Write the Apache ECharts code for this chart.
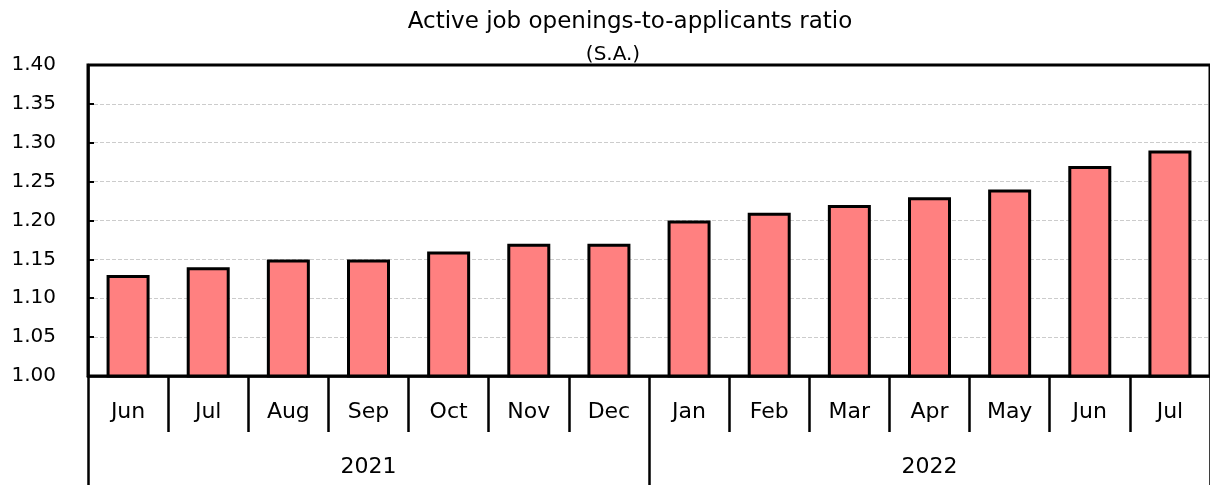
<!DOCTYPE html>
<html>
<head>
<meta charset="utf-8">
<script src="https://cdn.jsdelivr.net/npm/echarts@6/dist/echarts.min.js"></script>
<style>
  html, body { margin: 0; padding: 0; background: #fff; }
  #chart { width: 1210px; height: 485px; }
</style>
</head>
<body>
<div id="chart"></div>
<script>
// data
const months = ['Jun', 'Jul', 'Aug', 'Sep', 'Oct', 'Nov', 'Dec', 'Jan', 'Feb', 'Mar', 'Apr', 'May', 'Jun', 'Jul']
const years = ['2021', '2022']
const ratio = [1.13, 1.14, 1.15, 1.15, 1.16, 1.17, 1.17, 1.20, 1.21, 1.22, 1.23, 1.24, 1.27, 1.29]

const font = 'DejaVu Sans'
const myChart = echarts.init(document.getElementById('chart'))

let option = {
  animation: false,
  title: [
    {
      text: 'Active job openings-to-applicants ratio',
      left: 625, top: 6, textAlign: 'center',
      textStyle: { fontFamily: font, fontSize: 23, fontWeight: 'normal', color: '#000' }
    },
    {
      text: '(S.A.)',
      left: 608, top: 40, textAlign: 'center',
      textStyle: { fontFamily: font, fontSize: 20, fontWeight: 'normal', color: '#000' }
    }
  ],
  grid: {
    left: 88, right: 0, top: 65, bottom: 109,
    show: true, borderColor: '#000', borderWidth: 3
  },
  xAxis: [
    {
      type: 'category',
      data: months,
      position: 'bottom',
      axisLine: { lineStyle: { color: '#000', width: 2.5 } },
      axisTick: { show: true, interval: 0, length: 56, lineStyle: { color: '#000', width: 2.5 } },
      axisLabel: { interval: 0, margin: 25, fontFamily: font, fontSize: 22, color: '#000' }
    },
    {
      type: 'category',
      data: years,
      position: 'bottom',
      offset: 56,
      axisLine: { show: false },
      axisTick: { show: true, interval: 0, length: 54, lineStyle: { color: '#000', width: 2.5 } },
      axisLabel: { interval: 0, margin: 24, fontFamily: font, fontSize: 22, color: '#000' }
    }
  ],
  yAxis: {
    type: 'value',
    min: 1.0, max: 1.4, interval: 0.05,
    axisLine: { show: true, lineStyle: { color: '#000', width: 2.5 } },
    axisTick: { show: true, inside: true, length: 6, lineStyle: { color: '#000', width: 2 } },
    axisLabel: {
      margin: 32, fontFamily: font, fontSize: 20, color: '#000',
      formatter: (v) => v.toFixed(2)
    },
    splitLine: {
      show: true, showMinLine: false, showMaxLine: false,
      lineStyle: { color: '#ccc', type: 'dashed', width: 1 }
    }
  },
  series: [
    {
      type: 'bar',
      xAxisIndex: 0,
      data: ratio,
      barWidth: 43,
      itemStyle: { color: '#FF8080', borderColor: '#000', borderWidth: 3 }
    }
  ]
}

option && myChart.setOption(option)
</script>
</body>
</html>
